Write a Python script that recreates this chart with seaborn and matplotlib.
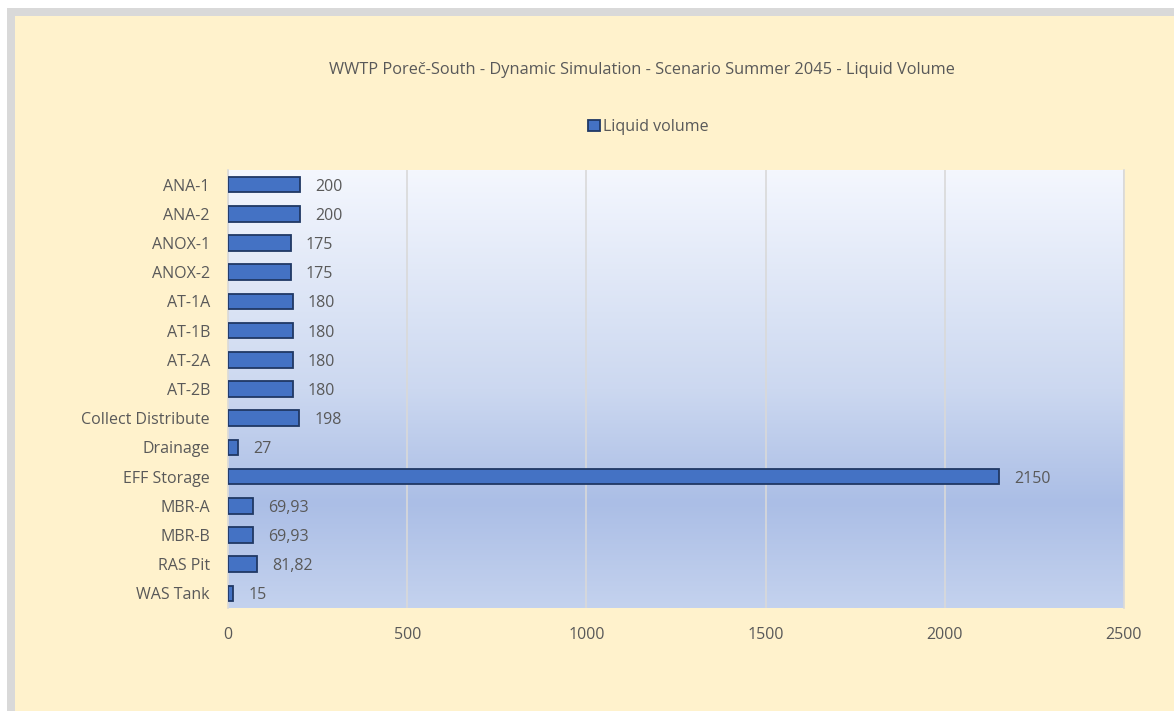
import numpy as np
import pandas as pd
import matplotlib
matplotlib.use("Agg")
import matplotlib.pyplot as plt
from matplotlib.colors import LinearSegmentedColormap
from matplotlib.patches import Rectangle
import seaborn as sns

units = ["ANA-1", "ANA-2", "ANOX-1", "ANOX-2", "AT-1A", "AT-1B", "AT-2A", "AT-2B",
         "Collect Distribute", "Drainage", "EFF Storage", "MBR-A", "MBR-B", "RAS Pit", "WAS Tank"]
volumes = [200, 200, 175, 175, 180, 180, 180, 180, 198, 27, 2150, 69.93, 69.93, 81.82, 15]
value_labels = ["200", "200", "175", "175", "180", "180", "180", "180", "198", "27",
                "2150", "69,93", "69,93", "81,82", "15"]
x_ticks = [0, 500, 1000, 1500, 2000, 2500]

df = pd.DataFrame({"Unit": units, "Volume": volumes})

sns.set_theme(style="white")
plt.rcParams["font.family"] = ["Open Sans", "DejaVu Sans"]
text_col = "#595959"
fs = 11.5

fig = plt.figure(figsize=(11.74, 7.11), dpi=100)
fig.patch.set_facecolor("white")
# chart frame: grey border + cream fill
fig.patches.append(Rectangle((7 / 1174, 0), 1.0, 1 - 8 / 711, transform=fig.transFigure,
                             facecolor="#D9D9D9", edgecolor="none", zorder=0))
fig.patches.append(Rectangle((15 / 1174, 0), 1.0, 1 - 16 / 711, transform=fig.transFigure,
                             facecolor="#FFF2CC", edgecolor="none", zorder=0))

ax = fig.add_axes([228 / 1174, 1 - 608 / 711, 896 / 1174, 438 / 711])
ax.set_facecolor("none")
ax.set_zorder(2)

# gradient plot area
grad = LinearSegmentedColormap.from_list("g", [(0, "#F4F7FE"), (0.5, "#CCD8F0"),
                                                (0.76, "#ABBEE6"), (1, "#C4D2EE")])
ax.imshow(np.linspace(0, 1, 256).reshape(-1, 1), cmap=grad, aspect="auto",
          extent=[0, 1, 0, 1], transform=ax.transAxes, zorder=0)

sns.barplot(data=df, y="Unit", x="Volume", orient="h", color="#4472C4", width=0.53,
            edgecolor="#203864", linewidth=1.3, saturation=1, ax=ax, zorder=3,
            label="Liquid volume")

for i, (v, lab) in enumerate(zip(volumes, value_labels)):
    ax.annotate(lab, (v, i), xytext=(11, 0), textcoords="offset points",
                va="center_baseline", ha="left", fontsize=fs, color=text_col)

ax.set_xlim(0, 2500)
ax.set_ylim(14.5, -0.5)
ax.set_xticks(x_ticks)
ax.xaxis.grid(True, color="#D9D9D9", linewidth=1.2, zorder=1)
ax.set_axisbelow(True)
for s in ["top", "bottom"]:
    ax.spines[s].set_visible(False)
ax.spines["left"].set_color("#D9D9D9")
ax.spines["right"].set_color("#D9D9D9")
ax.spines["left"].set_linewidth(1.2)
ax.spines["right"].set_linewidth(1.2)
ax.tick_params(axis="both", length=0, labelsize=fs, colors=text_col)
ax.tick_params(axis="y", pad=13)
ax.tick_params(axis="x", pad=14)
ax.set_xlabel("")
ax.set_ylabel("")

fig.text(642 / 1174, 1 - 70 / 711, "WWTP Poreč-South - Dynamic Simulation - Scenario Summer 2045 - Liquid Volume",
         ha="center", va="center", fontsize=11.75, color=text_col, zorder=3)
leg = ax.legend(loc="center", bbox_to_anchor=(648 / 1174, 1 - 127 / 711),
                bbox_transform=fig.transFigure, frameon=False, fontsize=fs,
                handlelength=0.75, handleheight=0.75, handletextpad=0.2)
for t in leg.get_texts():
    t.set_color(text_col)

fig.savefig("out.png", dpi=100)
